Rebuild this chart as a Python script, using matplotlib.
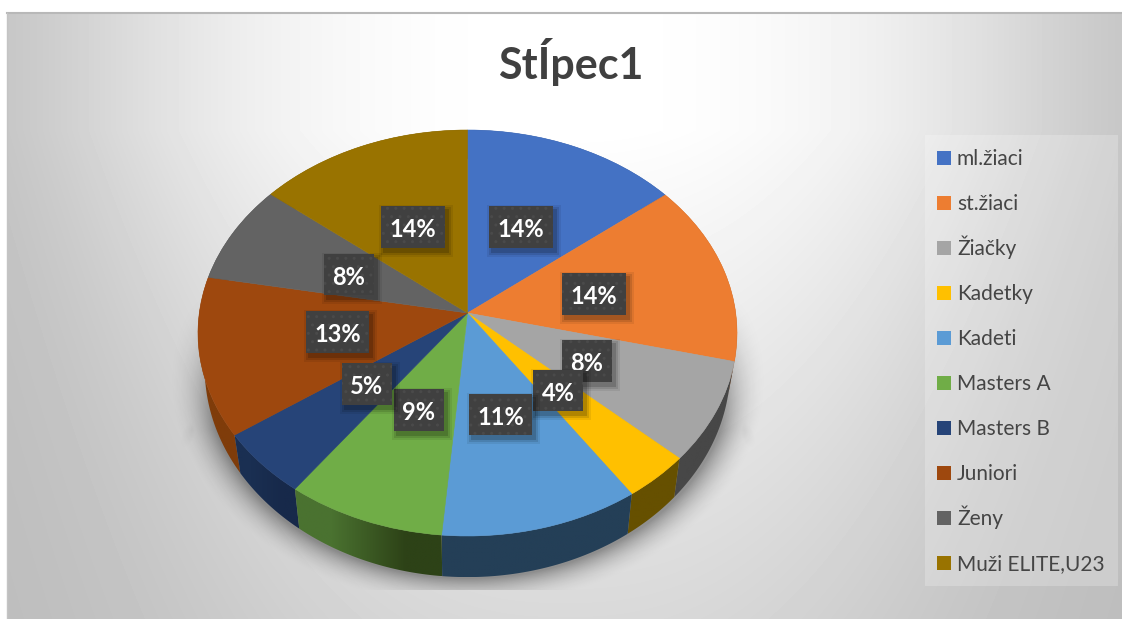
"""Tilted pie of the category shares, drawn in pixel coordinates of an 1122x619 canvas."""

import matplotlib

matplotlib.use("Agg")
import matplotlib.pyplot as plt
import numpy as np
from matplotlib.colors import to_rgb
from matplotlib.patches import Polygon, Rectangle
from matplotlib.transforms import Transform

TITLE = "StÍpec1"
CATEGORIES = ["ml.žiaci", "st.žiaci", "Žiačky", "Kadetky", "Kadeti",
              "Masters A", "Masters B", "Juniori", "Ženy", "Muži ELITE,U23"]
SHARES = [14.3, 14.49, 8.0, 3.7, 10.9, 8.7, 5.2, 12.6, 7.9, 14.21]
COLORS = ["#4472c4", "#ed7d31", "#a5a5a5", "#ffc000", "#5b9bd5",
          "#70ad47", "#264478", "#9e480e", "#636363", "#997300"]
# side wall colours, left end and right end of each slice
SIDE_LEFT = ["#2a4679", "#93501f", "#474747", "#665000", "#243f57",
             "#4a7230", "#1a2f52", "#7f3c0a", "#3c3c3c", "#5c4500"]
SIDE_RIGHT = ["#2a4679", "#93501f", "#474747", "#665000", "#243f57",
              "#2d4217", "#17294a", "#7f3c0a", "#3c3c3c", "#5c4500"]
# (left, top, width, height) of the label boxes, pixels
LABEL_BOXES = [(489, 206, 64, 42), (562, 273, 64, 42), (562, 340, 50, 42),
               (533, 370, 50, 41), (469, 394, 63, 41), (394, 389, 50, 42),
               (342, 363, 50, 42), (306, 311, 63, 42), (324, 254, 50, 41),
               (381, 206, 64, 42)]
LABEL_ORDER = [9, 0, 1, 2, 3, 4, 7, 8, 5, 6]

W, H = 1122, 619
CX, APEX_Y = 467.5, 313.0
TILT_A, TILT_C, TILT_D = -170.2, 0.0985, 268.2


def project(x, y):
    """Unit circle -> pixels; the apex sits above the ellipse centre like in a 3D view."""
    w = 1 + TILT_C * y
    return CX + TILT_D * x / w, (APEX_Y + TILT_A * y) / w


def to_floor(px, py):
    """Rim point of the top face -> matching point of the lower face."""
    return CX + 0.975 * (px - CX), py + 38 + 0.03 * (py - 432)


class PieTilt(Transform):
    input_dims = 2
    output_dims = 2

    def transform_non_affine(self, values):
        px, py = project(values[:, 0], values[:, 1])
        return np.column_stack([px, py])


fig = plt.figure(figsize=(W / 100, H / 100), dpi=100, facecolor="white")
ax = fig.add_axes([0, 0, 1, 1])

wedges, _ = ax.pie(SHARES, colors=COLORS, startangle=90, counterclock=False,
                   wedgeprops={"linewidth": 0.4, "zorder": 5})
tilt = PieTilt() + ax.transData
for wedge, color in zip(wedges, COLORS):
    wedge.set_transform(tilt)
    wedge.set_edgecolor(color)

# background gradient: falloff to the sides plus falloff downwards, capped in the corners
yy, xx = np.mgrid[13:H, 8:W]
fall = 65 * (np.abs(xx - 565) / 557) ** 2.4 + 39 * np.clip(yy - 130, 0, None) / 489 + 0.01
fall = (fall ** -4.0 + 68.0 ** -4.0) ** -0.25
ax.imshow((255 - fall) / 255, cmap="gray", vmin=0, vmax=1, extent=(8, W, H, 13), aspect="auto",
          zorder=0)
ax.plot([7, W], [12.5, 12.5], color="#b8b8b8", lw=1.5, zorder=1)
ax.plot([7.5, 7.5], [12.5, H], color="#c4c4c4", lw=1, zorder=1)

# soft shadow below the pie, plus the faint wedge on both sides
yy, xx = np.mgrid[280:590, 150:790]
d = (np.hypot((xx - CX) / 262, (yy - 375) / 203) - 1) * 230
alpha = 0.36 * np.clip(1 - d / 34, 0, 1) ** 2 * np.clip((yy - 290) / 140, 0, 1)
half = 270 + (yy - 310) * 0.136
wedge_fade = (np.clip((half - np.abs(xx - CX)) / 10, 0, 1) * np.clip((yy - 320) / 115, 0, 1)
              * np.clip((448 - yy) / 18, 0, 1))
shadow = np.zeros(alpha.shape + (4,))
shadow[..., 3] = np.maximum(alpha, 0.09 * wedge_fade)
ax.imshow(shadow, extent=(150, 790, 590, 280), aspect="auto", zorder=1.5)

# side walls, back slices first
edges = 2 * np.pi * np.concatenate([[0], np.cumsum(SHARES)]) / np.sum(SHARES)
walls = []
for i in range(len(SHARES)):
    theta = np.linspace(edges[i], edges[i + 1], 40)
    top_x, top_y = project(np.sin(theta), np.cos(theta))
    low_x, low_y = to_floor(top_x, top_y)
    walls.append((top_y.mean(), i, top_x, top_y, low_x, low_y))
for _, i, top_x, top_y, low_x, low_y in sorted(walls, key=lambda w: w[0]):
    outline = np.column_stack([np.r_[top_x, low_x[::-1]], np.r_[top_y, low_y[::-1]]])
    clip = Polygon(outline, closed=True, transform=ax.transData)
    x0, x1 = outline[:, 0].min(), outline[:, 0].max()
    y0, y1 = outline[:, 1].min(), outline[:, 1].max()
    ramp = np.array([[to_rgb(SIDE_LEFT[i]), to_rgb(SIDE_RIGHT[i])]])
    img = ax.imshow(ramp, extent=(x0, x1, y1, y0), aspect="auto", interpolation="bilinear",
                    zorder=3)
    img.set_clip_path(clip)

# percentage labels
for i in LABEL_ORDER:
    left, top, bw, bh = LABEL_BOXES[i]
    z = 6 + LABEL_ORDER.index(i) * 0.1
    for grow, a in [(5, 0.07), (3, 0.11), (1, 0.16)]:
        ax.add_patch(Rectangle((left + 3 - grow, top + 4 - grow), bw + 2 * grow, bh + 2 * grow,
                               color="black", alpha=a, lw=0, zorder=z))
    ax.add_patch(Rectangle((left, top), bw, bh, facecolor="#404040", edgecolor="#4a4a4a",
                           hatch="..", lw=0, zorder=z + 0.01))
    ax.text(left + bw / 2, top + 31, f"{round(SHARES[i])}%", color="white",
            family="Lato", weight="bold", fontsize=17, ha="center", va="baseline",
            zorder=z + 0.02)

ax.text(570.5, 79, TITLE, color="#404040", family="Lato", weight="bold", fontsize=31,
        ha="center", va="baseline", zorder=6)

# legend
ax.add_patch(Rectangle((925, 135), 193, 451, color="white", alpha=0.22, lw=0, zorder=2))
for i, name in enumerate(CATEGORIES):
    y = 158 + 45 * i
    ax.add_patch(Rectangle((937, y - 7), 14, 14, color=COLORS[i], lw=0, zorder=6))
    ax.text(957, y + 7, name, color="#454545", family="Lato", fontsize=15, ha="left",
            va="baseline", zorder=6)

ax.set_aspect("auto")
ax.set_xlim(0, W)
ax.set_ylim(H, 0)
ax.axis("off")

fig.savefig("out.png", dpi=100)
